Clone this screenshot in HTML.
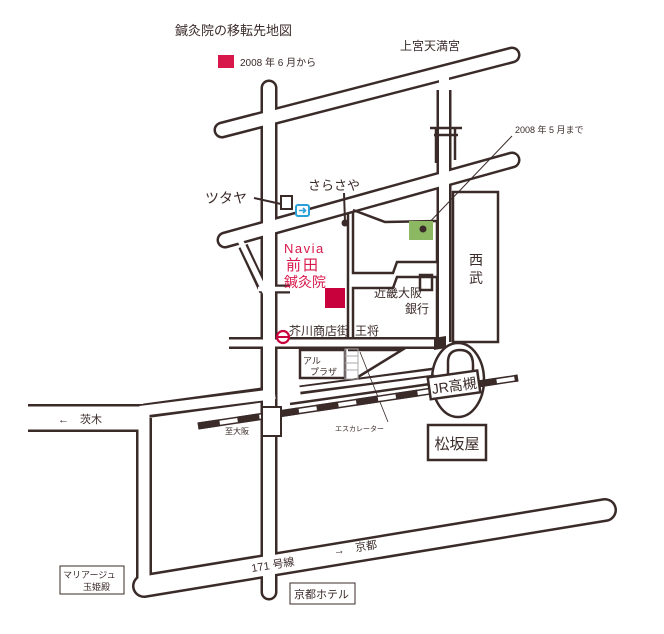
<!DOCTYPE html>
<html><head><meta charset="utf-8"><style>
html,body{margin:0;padding:0;background:#fff}
svg{display:block}
text{font-family:"Liberation Sans","Noto Sans CJK JP",sans-serif;fill:#3a2b29}
</style></head><body>
<svg width="664" height="634" viewBox="0 0 664 634" xmlns="http://www.w3.org/2000/svg">
<rect width="664" height="634" fill="#fff"/>
<g stroke="#3a2b29" fill="none">
 <line x1="222" y1="130" x2="512" y2="55" stroke-width="17" stroke-linecap="round"/>
 <line x1="225" y1="240" x2="512" y2="160" stroke-width="17" stroke-linecap="round"/>
 <line x1="269" y1="88" x2="269" y2="592" stroke-width="17" stroke-linecap="round"/>
 <line x1="444" y1="90" x2="444" y2="342" stroke-width="15"/>
 <line x1="229" y1="343" x2="440" y2="343" stroke-width="12"/>
 <line x1="243" y1="246" x2="264" y2="291" stroke-width="10"/>
 <line x1="262" y1="289" x2="290" y2="289" stroke-width="9"/>
 <line x1="28" y1="418" x2="144" y2="418" stroke-width="28"/>
 <line x1="144" y1="411" x2="269" y2="394" stroke-width="15"/>
 <line x1="144" y1="418" x2="144" y2="586" stroke-width="16"/>
 <line x1="144" y1="586" x2="605" y2="510" stroke-width="24" stroke-linecap="round"/>
 <line x1="300" y1="390" x2="434" y2="372" stroke-width="9"/>
</g>
<g stroke="#fff" fill="none">
 <line x1="222" y1="130" x2="512" y2="55" stroke-width="12" stroke-linecap="round"/>
 <line x1="225" y1="240" x2="512" y2="160" stroke-width="12" stroke-linecap="round"/>
 <line x1="269" y1="88" x2="269" y2="592" stroke-width="12" stroke-linecap="round"/>
 <line x1="444" y1="73" x2="444" y2="345" stroke-width="10"/>
 <line x1="229" y1="343" x2="446" y2="343" stroke-width="7"/>
 <line x1="240" y1="240" x2="266" y2="294" stroke-width="5.5"/>
 <line x1="258" y1="289" x2="290" y2="289" stroke-width="4.5"/>
 <line x1="28" y1="418" x2="147" y2="418" stroke-width="23"/>
 <line x1="140" y1="411" x2="275" y2="394" stroke-width="10"/>
 <line x1="144" y1="410" x2="144" y2="590" stroke-width="11"/>
 <line x1="144" y1="586" x2="605" y2="510" stroke-width="19" stroke-linecap="round"/>
 <line x1="296" y1="390" x2="436" y2="372" stroke-width="4.5"/>
</g>
<g stroke="#3a2b29" stroke-width="2.5" fill="none">
 <line x1="430" y1="128" x2="462" y2="128"/><line x1="434" y1="135" x2="458" y2="135"/>
 <line x1="436" y1="128" x2="436" y2="163"/><line x1="455" y1="128" x2="455" y2="160"/>
</g>
<g stroke="#3a2b29" stroke-width="2.5" fill="none">
 <line x1="348" y1="214" x2="348" y2="337"/>
 <polyline points="353,210 385,222 437,221"/>
 <polyline points="353,212 353,273 393,273 397,262 437,262"/>
 <polyline points="353,337 353,288 393,288 397,277 437,277 437,337"/>
 <line x1="437" y1="221" x2="437" y2="262"/>
 <rect x="453" y="192" width="45" height="150"/>
 <rect x="420" y="275" width="12" height="15"/>
 <rect x="300" y="350" width="45" height="28"/>
 <polyline points="348,350 402,350 358,377"/>
 <line x1="290" y1="404" x2="430" y2="384"/>
</g>
<g stroke="#aaa" stroke-width="1">
 <rect x="345" y="349" width="13" height="30" fill="none"/>
 <line x1="345" y1="356" x2="358" y2="356"/><line x1="345" y1="363" x2="358" y2="363"/><line x1="345" y1="370" x2="358" y2="370"/>
</g>
<line x1="360" y1="352" x2="388" y2="422" stroke="#3a2b29" stroke-width="0.8"/>
<ellipse cx="458" cy="380" rx="26" ry="37" fill="none" stroke="#3a2b29" stroke-width="2.5"/>
<path d="M448,376 L448,362 Q448,350 460,350 Q473,350 473,365 L473,376" fill="none" stroke="#3a2b29" stroke-width="2.5"/>
<polygon points="434,338 446,336 446,348 434,350" fill="#3a2b29"/>
<line x1="198" y1="426" x2="518" y2="378" stroke="#3a2b29" stroke-width="7"/>
<line x1="198" y1="426" x2="518" y2="378" stroke="#fff" stroke-width="4"/>
<line x1="198" y1="426" x2="518" y2="378" stroke="#3a2b29" stroke-width="7" stroke-dasharray="22,18"/>
<rect x="262" y="407" width="19" height="29" fill="#fff" stroke="#3a2b29" stroke-width="2"/>
<g transform="rotate(-8 453 385)">
 <rect x="429" y="374" width="50" height="22" fill="#fff" stroke="#3a2b29" stroke-width="2.5"/>
 <text x="454" y="391" font-size="14" text-anchor="middle">JR高槻</text>
</g>
<rect x="428" y="425" width="58" height="35" fill="#fff" stroke="#3a2b29" stroke-width="2.5"/>
<text x="457" y="449" font-size="15" text-anchor="middle">松坂屋</text>
<text x="175" y="35" font-size="13">鍼灸院の移転先地図</text>
<rect x="218" y="55" width="16" height="13" fill="#d8174a"/>
<text x="240" y="66" font-size="10">2008 年 6 月から</text>
<text x="400" y="50" font-size="12">上宮天満宮</text>
<text x="515" y="133" font-size="9">2008 年 5 月まで</text>
<line x1="423" y1="229" x2="512" y2="136" stroke="#3a2b29" stroke-width="1"/>
<rect x="409" y="221" width="24" height="19" fill="#8cb862"/>
<circle cx="423" cy="229" r="3.5" fill="#3a2b29"/>
<text x="308" y="190" font-size="13">さらさや</text>
<line x1="344" y1="193" x2="345" y2="222" stroke="#3a2b29" stroke-width="2"/>
<circle cx="345" cy="223" r="3.5" fill="#3a2b29"/>
<text x="205" y="203" font-size="14">ツタヤ</text>
<line x1="254" y1="198" x2="281" y2="204" stroke="#3a2b29" stroke-width="2"/>
<rect x="281" y="196" width="11" height="13" fill="#fff" stroke="#3a2b29" stroke-width="2"/>
<rect x="296" y="205" width="13" height="11" rx="2" fill="#fff" stroke="#2aa0d8" stroke-width="2"/>
<path d="M299,210.5 h6 m-2,-2.5 l2.5,2.5 l-2.5,2.5" stroke="#2aa0d8" stroke-width="1.6" fill="none"/>
<text x="284" y="253" font-size="13" style="fill:#d8174a;letter-spacing:1.5px">Navia</text>
<text x="286" y="270" font-size="15" style="fill:#d8174a;letter-spacing:2px">前田</text>
<text x="284" y="287" font-size="14" style="fill:#d8174a">鍼灸院</text>
<rect x="325" y="288" width="20" height="20" fill="#c8003c"/>
<text x="374" y="297" font-size="12">近畿大阪</text>
<text x="405" y="313" font-size="12">銀行</text>
<text x="289" y="335" font-size="12">芥川商店街</text>
<text x="355" y="335" font-size="12">王将</text>
<circle cx="283" cy="337" r="6" fill="#fff" stroke="#c8003c" stroke-width="2.2"/>
<line x1="278" y1="337" x2="288" y2="337" stroke="#c8003c" stroke-width="2"/>
<text x="469" y="265" font-size="14">西</text>
<text x="469" y="283" font-size="14">武</text>
<text x="303" y="364" font-size="9">アル</text>
<text x="310" y="375" font-size="9">プラザ</text>
<text x="335" y="431" font-size="7">エスカレーター</text>
<text x="225" y="434" font-size="8">至大阪</text>
<text x="58" y="423" font-size="11">←　茨木</text>
<text x="252" y="572" font-size="11" transform="rotate(-9 252 572)">171 号線</text>
<text x="334" y="555" font-size="11" transform="rotate(-9 334 555)">→　京都</text>
<rect x="60" y="566" width="64" height="28" fill="#fff" stroke="#3a2b29" stroke-width="1"/>
<text x="63" y="578" font-size="9">マリアージュ</text>
<text x="83" y="590" font-size="9">玉姫殿</text>
<rect x="290" y="583" width="65" height="21" fill="#fff" stroke="#3a2b29" stroke-width="1"/>
<text x="294" y="598" font-size="11">京都ホテル</text>
</svg>
</body></html>
